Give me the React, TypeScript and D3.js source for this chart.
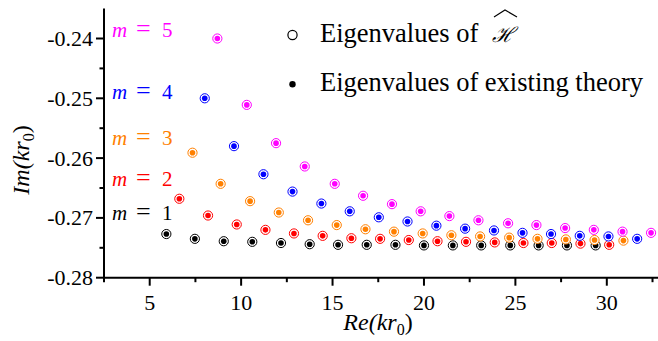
import React from "react";
import * as d3 from "d3";

const m1Re = [5.91, 7.47, 9.05, 10.61, 12.18, 13.75, 15.3, 16.87, 18.44, 20.0, 21.58, 23.13, 24.72, 26.27, 27.82, 29.39];
const m1Im = [-0.2727, -0.2735, -0.2739, -0.274, -0.2742, -0.2744, -0.2745, -0.2745, -0.2745, -0.2746, -0.2746, -0.2746, -0.2746, -0.2746, -0.2746, -0.2746];

const m2Re = [6.62, 8.19, 9.76, 11.33, 12.89, 14.46, 16.03, 17.6, 19.17, 20.74, 22.3, 23.87, 25.44, 26.99, 28.56, 30.13];
const m2Im = [-0.2668, -0.2696, -0.2711, -0.272, -0.2726, -0.273, -0.2734, -0.2735, -0.2737, -0.2739, -0.274, -0.2741, -0.2742, -0.2742, -0.2743, -0.2745];

const m3Re = [7.34, 8.88, 10.49, 12.06, 13.66, 15.23, 16.8, 18.36, 19.93, 21.5, 23.07, 24.66, 26.21, 27.76, 29.33, 30.91];
const m3Im = [-0.2591, -0.2643, -0.2672, -0.2691, -0.2704, -0.2712, -0.2719, -0.2723, -0.2726, -0.2729, -0.2731, -0.2733, -0.2735, -0.2736, -0.2737, -0.2738];

const m4Re = [8.01, 9.61, 11.22, 12.81, 14.39, 15.94, 17.53, 19.1, 20.68, 22.25, 23.83, 25.39, 26.95, 28.52, 30.09, 31.66];
const m4Im = [-0.25, -0.258, -0.2627, -0.2656, -0.2676, -0.2689, -0.2699, -0.2706, -0.2713, -0.2718, -0.2721, -0.2725, -0.2727, -0.273, -0.2731, -0.2735];

const m5Re = [8.7, 10.31, 11.91, 13.48, 15.12, 16.67, 18.25, 19.82, 21.39, 22.98, 24.6, 26.15, 27.72, 29.29, 30.86, 32.42];
const m5Im = [-0.24, -0.2511, -0.2575, -0.2614, -0.2643, -0.2663, -0.2677, -0.2689, -0.2697, -0.2704, -0.2709, -0.2712, -0.2717, -0.272, -0.2723, -0.2725];

const modes = [1, 2, 3, 4, 5];
const modeColors = ["#000000", "#ff0000", "#ff8000", "#0000ff", "#ff00ff"];
const modeRe = [m1Re, m2Re, m3Re, m4Re, m5Re];
const modeIm = [m1Im, m2Im, m3Im, m4Im, m5Im];
// baseline of the "m = n" labels, in data units
const modeLabelIm = [-0.2704, -0.2646, -0.2578, -0.2501, -0.2398];

const xTicks = [5, 10, 15, 20, 25, 30];
const xMinor = [2.5, 7.5, 12.5, 17.5, 22.5, 27.5, 32.5];
const yTicks = [-0.28, -0.27, -0.26, -0.25, -0.24];
const yMinor = [-0.275, -0.265, -0.255, -0.245];

const W = 658;
const H = 341;
const serif = "'Liberation Serif', 'Times New Roman', serif";

export default function App() {
  const x = d3.scaleLinear().domain([2.5, 32.8]).range([104, 658]);
  const y = d3.scaleLinear().domain([-0.28, -0.235]).range([277.7, 8.6]);
  const x0 = x.range()[0];
  const y0 = y.range()[0];

  return (
    <div style={{ position: "absolute", left: 0, top: 0 }}>
      <svg width={W} height={H} style={{ display: "block", background: "#fff" }}>
        {/* axes */}
        <line x1={x0} x2={x0} y1={y.range()[1]} y2={y0 + 1} stroke="#000" strokeWidth={2} />
        <line x1={x0 - 1} x2={W} y1={y0} y2={y0} stroke="#000" strokeWidth={2} />
        {yTicks.map((t) => (
          <g key={"yt" + t}>
            <line x1={x0 - 8} x2={x0} y1={y(t)} y2={y(t)} stroke="#000" strokeWidth={2} />
            <text x={x0 - 11} y={y(t) + 7.5} textAnchor="end" fontFamily={serif} fontSize={22}>
              {t.toFixed(2)}
            </text>
          </g>
        ))}
        {yMinor.map((t) => (
          <line key={"ym" + t} x1={x0 - 4.5} x2={x0} y1={y(t)} y2={y(t)} stroke="#000" strokeWidth={2} />
        ))}
        {xTicks.map((t) => (
          <g key={"xt" + t}>
            <line x1={x(t)} x2={x(t)} y1={y0} y2={y0 + 8} stroke="#000" strokeWidth={2} />
            <text x={x(t)} y={y0 + 32} textAnchor="middle" fontFamily={serif} fontSize={22}>
              {t}
            </text>
          </g>
        ))}
        {xMinor.map((t) => (
          <line key={"xm" + t} x1={x(t)} x2={x(t)} y1={y0} y2={y0 + 4.5} stroke="#000" strokeWidth={2} />
        ))}

        {/* axis titles */}
        <text x={378} y={330} textAnchor="middle" fontFamily={serif} fontSize={24} fontStyle="italic">
          Re(kr<tspan fontSize={16} dy={5} fontStyle="normal">0</tspan>
          <tspan dy={-5} fontStyle="normal">)</tspan>
        </text>
        <text
          transform={`translate(29, 160) rotate(-90)`}
          textAnchor="middle"
          fontFamily={serif}
          fontSize={24}
          fontStyle="italic"
        >
          Im(kr<tspan fontSize={16} dy={5} fontStyle="normal">0</tspan>
          <tspan dy={-5} fontStyle="normal">)</tspan>
        </text>

        {/* data */}
        {modes.map((m, i) => (
          <g key={"m" + m}>
            {modeRe[i].map((re, j) => (
              <g key={j}>
                <circle cx={x(re)} cy={y(modeIm[i][j])} r={4.6} fill="#fff" stroke={modeColors[i]} strokeWidth={1} />
                <circle cx={x(re)} cy={y(modeIm[i][j])} r={2.8} fill={modeColors[i]} />
              </g>
            ))}
            <text y={y(modeLabelIm[i])} fontFamily={serif} fontSize={21} fill={modeColors[i]}>
              <tspan x={112} fontStyle="italic">m</tspan>
              <tspan x={136} fontSize={26}>=</tspan>
              <tspan x={162}>{m}</tspan>
            </text>
          </g>
        ))}

        {/* legend */}
        <circle cx={292.5} cy={35} r={4.6} fill="none" stroke="#000" strokeWidth={1.2} />
        <text x={320} y={42} fontFamily={serif} fontSize={26.5}>
          Eigenvalues of
        </text>
        <text x={492} y={42} fontFamily={serif} fontSize={21} fontStyle="italic">ℋ</text>
        <path d="M 494 17 L 505 10 L 517 17" fill="none" stroke="#000" strokeWidth={1.1} />
        <circle cx={292.5} cy={84.3} r={3.2} fill="#000" />
        <text x={320} y={91} fontFamily={serif} fontSize={26.5}>
          Eigenvalues of existing theory
        </text>
      </svg>
    </div>
  );
}
